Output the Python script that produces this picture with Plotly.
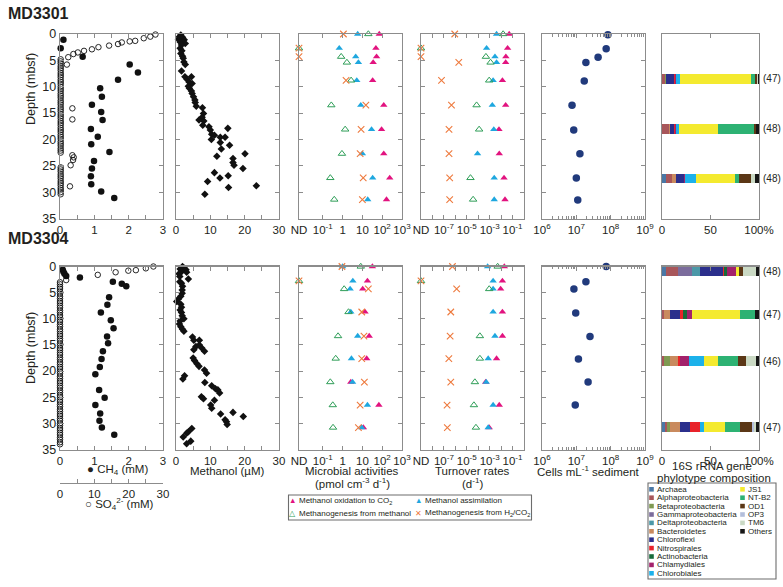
import plotly.graph_objects as go

W, H = 783, 587
FONT = "Liberation Sans, Arial, Helvetica, sans-serif"
AXC = "#8c8c8c"
TXT = "#231f20"

# ------------------------------------------------------------------ data
# MD3301 porewater CH4 (mM)
ch4_3301_depth = [1.1, 2.7, 4.3, 5.8, 7.3, 8.7, 10.3, 11.9, 13.4, 14.8, 16.3, 18.0, 19.5,
                  20.9, 22.4, 24.1, 25.5, 27.0, 28.5, 29.9, 31.1]
ch4_3301 = [0.10, 0.02, 0.66, 2.03, 2.27, 1.69, 1.17, 1.22, 0.93, 1.20, 1.24, 0.90, 1.10,
            0.91, 1.44, 0.99, 0.93, 0.90, 0.91, 1.20, 1.58]
# MD3301 porewater SO4 (mM)
so4_3301_depth = [0.1, 0.5, 0.8, 1.3, 1.4, 1.6, 1.9, 2.2, 2.5, 2.9, 3.2, 3.5, 3.8, 4.4, 5.8,
                  14.1, 16.2, 23.0, 23.4, 23.9, 24.9, 28.9,
                  4.8, 5.2, 5.6, 6.1, 6.5, 6.9, 7.4, 7.8, 8.2, 8.7, 9.1, 9.5, 10.0, 10.4,
                  10.8, 11.3, 11.7, 12.1, 12.6, 13.0, 13.4, 13.9, 14.3, 14.7, 15.2, 15.6,
                  16.0, 16.5, 16.9, 17.3, 17.8, 18.2, 18.6, 19.1, 19.5, 19.9, 20.4, 20.8,
                  21.2, 21.7, 22.1, 22.5,
                  25.3, 25.7, 26.1, 26.6, 27.0, 27.4, 27.9, 28.3, 28.7, 29.2, 29.6, 30.0, 30.4]
so4_3301 = [27.8, 26.3, 24.4, 21.9, 20.3, 18.0, 16.9, 14.3, 11.2, 9.3, 7.0, 5.2, 3.9, 2.4, 2.0,
            3.6, 3.6, 3.6, 4.0, 3.8, 3.1, 2.9,
            0.2, 0.2, 0.2, 0.2, 0.2, 0.2, 0.2, 0.2, 0.2, 0.2, 0.2, 0.2, 0.2, 0.2,
            0.2, 0.2, 0.2, 0.2, 0.2, 0.2, 0.2, 0.2, 0.2, 0.2, 0.2, 0.2,
            0.2, 0.2, 0.2, 0.2, 0.2, 0.2, 0.2, 0.2, 0.2, 0.2, 0.2, 0.2,
            0.2, 0.2, 0.2, 0.2,
            0.2, 0.2, 0.2, 0.2, 0.2, 0.2, 0.2, 0.2, 0.2, 0.2, 0.2, 0.2, 0.2]
# MD3301 methanol (uM)
meoh_3301_depth = [0.2, 0.5, 0.6, 1.0, 1.1, 1.5, 1.8, 2.1, 2.7, 3.2, 3.7, 4.2, 4.6, 5.3, 5.8,
                   7.0, 8.1, 8.1, 8.6, 9.1, 9.4, 9.9, 10.3, 10.8, 11.3, 11.9, 12.5, 13.0,
                   13.7, 14.0, 15.1, 15.8, 16.3, 16.5, 17.3, 17.6, 18.2, 19.0, 19.2, 20.0,
                   19.6, 17.9, 19.6, 20.6, 21.1, 21.8, 23.2, 22.7, 23.6, 24.4, 24.9, 25.5,
                   26.3, 26.9, 27.3, 28.0, 28.8, 29.1, 30.4]
meoh_3301 = [1.4, 1.0, 1.9, 0.7, 2.4, 1.2, 2.7, 1.6, 1.2, 1.7, 1.4, 1.9, 2.1, 2.3, 2.7,
             1.6, 2.6, 4.5, 3.2, 3.8, 4.7, 3.6, 3.9, 4.5, 4.7, 5.1, 5.5, 5.6,
             5.9, 7.7, 8.0, 7.6, 6.7, 8.1, 7.8, 9.6, 10.0, 10.4, 11.2, 10.3,
             12.9, 15.1, 14.3, 12.9, 15.6, 13.2, 11.9, 20.1, 16.6, 16.6, 16.9, 19.5,
             11.2, 15.2, 12.8, 9.2, 23.4, 15.3, 8.4]

# MD3304 porewater
ch4_3304_depth = [0.6, 1.0, 1.4, 1.8, 2.1, 2.9, 3.3, 3.8, 5.9, 7.3, 8.8, 10.3, 11.8, 13.4,
                  14.7, 16.2, 17.7, 19.2, 20.6, 23.6, 25.1, 26.5, 28.1, 29.5, 30.8, 32.2]
ch4_3304 = [0.08, 0.10, 0.13, 0.18, 0.58, 1.54, 1.80, 1.93, 1.43, 1.38, 1.19, 1.48, 1.56, 1.37,
            1.40, 1.25, 1.21, 1.16, 1.03, 1.14, 1.30, 1.03, 1.17, 1.15, 1.22, 1.58]
so4_3304_depth = [0.0, 0.35, 0.7, 0.8, 1.1, 1.6, 2.6,
                  3.0, 3.4, 3.9, 4.3, 4.8, 5.2, 5.7, 6.1, 6.6, 7.0, 7.5, 7.9, 8.4, 8.8,
                  9.3, 9.7, 10.2, 10.6, 11.1, 11.5, 12.0, 12.4, 12.9, 13.3, 13.8, 14.2,
                  14.7, 15.1, 15.6, 16.0, 16.5, 16.9, 17.4, 17.8, 18.3, 18.7, 19.2, 19.6,
                  20.1, 20.5, 21.0, 21.4, 21.9, 22.3, 22.8, 23.2, 23.7, 24.1, 24.6, 25.0,
                  25.5, 25.9, 26.4, 26.8, 27.3, 27.7, 28.2, 28.6, 29.1, 29.5, 30.0, 30.4,
                  30.9, 31.3, 31.8, 32.2, 32.7, 33.1, 33.6, 34.0]
so4_3304 = [27.2, 25.0, 22.1, 19.9, 16.2, 11.0, 1.8,
            0.0, 0.0, 0.0, 0.0, 0.0, 0.0, 0.0, 0.0, 0.0, 0.0, 0.0, 0.0, 0.0, 0.0,
            0.0, 0.0, 0.0, 0.0, 0.0, 0.0, 0.0, 0.0, 0.0, 0.0, 0.0, 0.0,
            0.0, 0.0, 0.0, 0.0, 0.0, 0.0, 0.0, 0.0, 0.0, 0.0, 0.0, 0.0,
            0.0, 0.0, 0.0, 0.0, 0.0, 0.0, 0.0, 0.0, 0.0, 0.0, 0.0, 0.0,
            0.0, 0.0, 0.0, 0.0, 0.0, 0.0, 0.0, 0.0, 0.0, 0.0, 0.0, 0.0,
            0.0, 0.0, 0.0, 0.0, 0.0, 0.0, 0.0, 0.0]
meoh_3304_depth = [0.0, 0.3, 0.5, 0.6, 1.0, 1.1, 1.4, 1.9, 2.4, 2.9, 3.2, 3.8, 4.5, 5.1, 5.7,
                   6.2, 6.7, 7.2, 7.8, 8.3, 8.8, 9.4, 10.0, 10.4, 11.0, 11.5, 12.0, 12.4,
                   13.5, 14.1, 14.1, 15.0, 15.3, 15.6, 16.2, 15.9, 17.5, 18.0, 18.6, 19.1,
                   19.8, 20.4, 20.9, 21.5, 22.2, 22.8, 23.4, 23.6, 24.2, 24.9, 25.3, 25.6,
                   26.5, 27.1, 27.9, 28.2, 28.7, 29.3, 29.7, 30.2, 31.0, 31.6, 31.9, 32.6,
                   33.4, 33.9]
meoh_3304 = [1.9, 2.3, 1.2, 2.9, 1.6, 3.1, 0.9, 1.1, 3.6, 1.1, 1.6, 1.9, 1.8, 1.8, 1.4,
             0.7, 0.2, 1.4, 1.6, 1.2, 1.6, 1.8, 2.3, 1.2, 1.0, 1.4, 1.9, 2.3,
             4.8, 5.2, 6.8, 6.8, 5.8, 7.5, 8.3, 5.2, 5.0, 5.4, 6.1, 6.7,
             8.3, 8.9, 2.5, 2.0, 8.4, 10.4, 11.5, 12.2, 12.7, 7.4, 8.0, 11.2,
             10.1, 10.4, 16.6, 13.0, 19.6, 14.3, 14.7, 14.9, 4.6, 3.6, 3.1, 2.1,
             4.3, 3.1]

# Microbial activities (pmol cm-3 d-1), "ND" = not detected
act_3301_depth = [0.0, 2.7, 4.3, 5.4, 8.8, 13.5, 18.1, 22.7, 27.3, 31.4]
act_3301_ox = [71, 48, 52, 35, 33, 120, 93, 120, 240, 165]
act_3301_assim = [5.8, 0.68, 4.6, 6.3, 5.2, 8.3, 29, 10, 33, 18.6]
act_3301_mg_meoh = [20, "ND", 0.85, 1.65, 2.7, 0.27, 1.35, 0.93, 0.24, 0.38]
act_3301_mg_h2 = [1.1, "ND", "ND", None, 1.5, 15, 8.6, 7.7, 11, 10]
act_3304_depth = [0.0, 2.76, 4.3, 8.7, 13.3, 17.6, 22.1, 26.5, 30.8]
act_3304_ox = [32, 18, 10.4, 13.6, 22, 16.5, 2.6, 68, 11.2]
act_3304_assim = [1.0, 3.3, 2.4, 2.6, 5.8, 2.8, 3.2, 18, 9.3]
act_3304_mg_meoh = [8.3, "ND", 1.2, 2.0, 0.59, 0.45, 0.24, 0.32, 0.33]
act_3304_mg_h2 = [0.93, "ND", 20, 9.3, 12, 9.3, 12.6, 7.7, 6.3]

# Turnover rates (d-1)
tr_3301_ox = [5.1e-2, 3.7e-2, 2.6e-2, 2.5e-2, 1.3e-2, 2.5e-2, 6.5e-3, 6.9e-3, 1.8e-2, 2.2e-2]
tr_3301_assim = [4.0e-3, 5.4e-4, 2.9e-3, 4.0e-3, 2.0e-3, 1.7e-3, 2.3e-3, 8.7e-5, 2.5e-3, 2.5e-3]
tr_3301_mg_meoh = [1.5e-2, "ND", 4.7e-4, 1.2e-3, 9.1e-4, 7.2e-5, 1.2e-4, None, 2.1e-5, 3.6e-5]
tr_3301_mg_h2 = [8.9e-7, "ND", "ND", 2.0e-6, 6.2e-8, 4.6e-7, 2.8e-7, 2.8e-7, 3.2e-7, 3.2e-7]
tr_3304_ox = [1.9e-2, 1.3e-2, 9.1e-3, 1.3e-2, 1.3e-2, 4.0e-3, 4.5e-4, 6.9e-3, 9.1e-4]
tr_3304_assim = [6.6e-4, 2.0e-3, 2.0e-3, 2.0e-3, 2.9e-3, 7.4e-4, 5.0e-4, 2.0e-3, 7.4e-4]
tr_3304_mg_meoh = [5.0e-3, "ND", 9.1e-4, None, 1.4e-4, 1.4e-4, 5.1e-5, 4.2e-5, 6.3e-5]
tr_3304_mg_h2 = [5.6e-7, "ND", 1.3e-6, 4.0e-7, 3.5e-7, 2.7e-7, 4.0e-7, 1.9e-7, 2.0e-7]

# Cell counts (cells mL-1 sediment)
cells_3301_depth = [0.13, 2.8, 4.4, 5.4, 8.9, 13.5, 18.2, 22.7, 27.3, 31.5]
cells_3301 = [8.3e7, 7.4e7, 4.3e7, 1.9e7, 1.7e7, 7.5e6, 8.4e6, 1.27e7, 1.0e7, 1.1e7]
cells_3304_depth = [0.0, 2.9, 4.3, 8.9, 13.4, 17.7, 22.1, 26.5]
cells_3304 = [7.4e7, 1.9e7, 8.5e6, 9.6e6, 2.5e7, 1.15e7, 2.2e7, 9.3e6]

# 16S rRNA gene phylotype composition (%)
phylotypes = ["Archaea", "Alphaproteobacteria", "Betaproteobacteria", "Gammaproteobacteria",
              "Deltaproteobacteria", "Bacteroidetes", "Chloroflexi", "Nitrospirales",
              "Actinobacteria", "Chlamydiales", "Chlorobiales", "JS1", "NT-B2", "OD1",
              "OP3", "TM6", "Others"]
phylo_colors = ["#4a78a6", "#a8565a", "#7f9a52", "#7b6c9c", "#4b98a8", "#c98a5e", "#2b2f8c",
                "#e8232a", "#176b3a", "#a3216b", "#1cb1ea", "#f4ea2f", "#2db273", "#5b3716",
                "#b3bedb", "#cad9c4", "#161616"]
clone_3301_depth = [8.5, 18.0, 27.4]
clone_3301_n = [47, 48, 48]
comp_3301_a = [0, 3, 1, 0, 0, 0, 8, 1, 0, 1.5, 4, 73, 4.5, 1.5, 0, 1.5, 1]
comp_3301_b = [0, 7, 0, 0, 0, 1, 4, 1, 0, 1, 4, 40, 37, 2, 0, 0, 3]
comp_3301_c = [4, 6, 0, 0, 0, 4, 8.5, 0, 0, 1.5, 11, 40, 4.5, 12, 0, 4, 4.5]
clone_3304_depth = [0.9, 9.2, 18.1, 30.7]
clone_3304_n = [48, 47, 46, 47]
comp_3304_a = [4, 12.5, 0, 14.5, 8.5, 0, 23, 1.5, 3, 9.5, 0, 3, 0, 4.5, 0, 13, 3]
comp_3304_b = [0, 2.4, 0, 0, 0, 5.5, 10.2, 3.4, 4.4, 5.1, 0, 49.2, 15.4, 0, 0, 0, 4.4]
comp_3304_c = [0, 1.7, 6.8, 0, 0, 8.5, 0, 1.7, 0, 9.2, 15.4, 14.7, 20.5, 8.5, 0, 10.2, 2.7]
comp_3304_d = [2.7, 2.4, 3.4, 0, 0, 10.2, 10.2, 10.2, 0, 0, 4.1, 22.2, 14.7, 12.6, 1.7, 2.7, 2.7]

# ------------------------------------------------------------------ layout geometry (px)
col_px = [(60, 163), (176, 279), (299, 402), (421, 524), (542, 645), (662, 759)]
row_px = [(34, 218.5), (266.5, 449.5)]
ACT_MIN = 10 ** -2.2   # left edge of activity axis (ND position)
TR_MIN = 1e-9          # left edge of turnover axis (ND position)


def px(xp):
    return xp / W


def py(yp):
    return 1 - yp / H


def ref(r, c):
    i = r * 6 + c + 1
    return ("x" if i == 1 else f"x{i}"), ("y" if i == 1 else f"y{i}")


fig = go.Figure()


def nd(vals, ndv):
    return [ndv if v == "ND" else v for v in vals]


def scatter(x, y, xr, yr, **kw):
    fig.add_trace(go.Scatter(x=x, y=y, mode="markers", xaxis=xr, yaxis=yr,
                             showlegend=False, cliponaxis=False, hoverinfo="skip", **kw))


C_OX = "#e2137f"
C_AS = "#1ea7df"
C_MG = "#2f9e58"
C_H2 = "#ee7a3e"
C_CELL = "#213a7c"

rows = [
    dict(ch4d=ch4_3301_depth, ch4=ch4_3301, so4d=so4_3301_depth, so4=so4_3301,
         md=meoh_3301_depth, m=meoh_3301, ad=act_3301_depth,
         aox=act_3301_ox, aas=act_3301_assim, amg=act_3301_mg_meoh, ah2=act_3301_mg_h2,
         tox=tr_3301_ox, tas=tr_3301_assim, tmg=tr_3301_mg_meoh, th2=tr_3301_mg_h2,
         cd=cells_3301_depth, c=cells_3301, bd=clone_3301_depth, bn=clone_3301_n,
         comps=[comp_3301_a, comp_3301_b, comp_3301_c], so4ax="x13"),
    dict(ch4d=ch4_3304_depth, ch4=ch4_3304, so4d=so4_3304_depth, so4=so4_3304,
         md=meoh_3304_depth, m=meoh_3304, ad=act_3304_depth,
         aox=act_3304_ox, aas=act_3304_assim, amg=act_3304_mg_meoh, ah2=act_3304_mg_h2,
         tox=tr_3304_ox, tas=tr_3304_assim, tmg=tr_3304_mg_meoh, th2=tr_3304_mg_h2,
         cd=cells_3304_depth, c=cells_3304, bd=clone_3304_depth, bn=clone_3304_n,
         comps=[comp_3304_a, comp_3304_b, comp_3304_c, comp_3304_d], so4ax="x14"),
]

annotations = []
for r, d in enumerate(rows):
    x1, y1 = ref(r, 0)
    scatter(d["so4"], d["so4d"], d["so4ax"], y1,
            marker=dict(symbol="circle-open", size=5.5, color="#111", line=dict(width=0.9)))
    scatter(d["ch4"], d["ch4d"], x1, y1, marker=dict(symbol="circle", size=6.5, color="#111"))
    x2, y2 = ref(r, 1)
    scatter(d["m"], d["md"], x2, y2, marker=dict(symbol="diamond", size=5.8, color="#111"))
    for col, ndv, keys in [(2, ACT_MIN, ("aox", "aas", "amg", "ah2")),
                           (3, TR_MIN, ("tox", "tas", "tmg", "th2"))]:
        xr, yr = ref(r, col)
        scatter(nd(d[keys[0]], ndv), d["ad"], xr, yr,
                marker=dict(symbol="triangle-up", size=6.5, color=C_OX))
        scatter(nd(d[keys[1]], ndv), d["ad"], xr, yr,
                marker=dict(symbol="triangle-up", size=6.5, color=C_AS))
        scatter(nd(d[keys[2]], ndv), d["ad"], xr, yr,
                marker=dict(symbol="triangle-up-open", size=6.5, color=C_MG, line=dict(width=1)))
        scatter(nd(d[keys[3]], ndv), d["ad"], xr, yr,
                marker=dict(symbol="x-thin-open", size=6.5, color=C_H2, line=dict(width=1.1, color=C_H2)))
    x5, y5 = ref(r, 4)
    scatter(d["c"], d["cd"], x5, y5, marker=dict(symbol="circle", size=7.5, color=C_CELL))
    x6, y6 = ref(r, 5)
    for k, name in enumerate(phylotypes):
        fig.add_trace(go.Bar(x=[comp[k] for comp in d["comps"]], y=d["bd"], orientation="h",
                             width=1.8, xaxis=x6, yaxis=y6, marker=dict(color=phylo_colors[k], line=dict(width=0)),
                             showlegend=False, hoverinfo="skip", name=name))
    for dep, n in zip(d["bd"], d["bn"]):
        annotations.append(dict(x=px(761), y=dep, xref="paper", yref=y6, text=f"({n})",
                                showarrow=False, xanchor="left", yanchor="middle",
                                font=dict(size=10, color=TXT, family=FONT)))

# ------------------------------------------------------------------ axes
base = dict(showline=True, linecolor=AXC, linewidth=1.3, mirror="ticks", ticks="inside",
            ticklen=4, tickwidth=1, tickcolor=AXC, showgrid=False, zeroline=False,
            automargin=False, fixedrange=True,
            tickfont=dict(family=FONT, size=11.5, color=TXT))
lay = {}
minor_cells = [k * 10 ** e for e in (6, 7, 8) for k in range(2, 10)]
for r in range(2):
    for c in range(6):
        i = r * 6 + c + 1
        xk = "xaxis" if i == 1 else f"xaxis{i}"
        yk = "yaxis" if i == 1 else f"yaxis{i}"
        xr, yr = ref(r, c)
        xa = dict(base, domain=[px(col_px[c][0]), px(col_px[c][1])], anchor=yr)
        ya = dict(base, domain=[py(row_px[r][1]), py(row_px[r][0])], anchor=xr,
                  range=[35, 0], tickmode="array", tickvals=[0, 5, 10, 15, 20, 25, 30, 35],
                  showticklabels=(c == 0), tickfont=dict(family=FONT, size=12.5, color=TXT))
        if c == 0:
            xa.update(range=[0, 3], tickmode="linear", tick0=0, dtick=1,
                      minor=dict(dtick=0.5, ticks="inside", ticklen=4, tickcolor=AXC))
        elif c == 1:
            xa.update(range=[0, 30], tickmode="linear", tick0=0, dtick=10,
                      minor=dict(dtick=5, ticks="inside", ticklen=4, tickcolor=AXC))
        elif c == 2:
            xa.update(type="log", range=[-2.2, 3], tickmode="array",
                      tickvals=[ACT_MIN, 0.1, 1, 10, 100, 1000],
                      ticktext=["ND", "10<sup>-1</sup>", "1", "10", "10<sup>2</sup>", "10<sup>3</sup>"])
        elif c == 3:
            xa.update(type="log", range=[-9, 0], tickmode="array",
                      tickvals=[1e-9, 1e-7, 1e-5, 1e-3, 1e-1],
                      ticktext=["ND", "10<sup>-7</sup>", "10<sup>-5</sup>",
                                "10<sup>-3</sup>", "10<sup>-1</sup>"],
                      minor=dict(tickmode="array", tickvals=[1e-8, 1e-6, 1e-4, 1e-2],
                                 ticks="inside", ticklen=4, tickcolor=AXC))
        elif c == 4:
            xa.update(type="log", range=[6, 9], tickmode="array",
                      tickvals=[1e6, 1e7, 1e8, 1e9],
                      ticktext=["10<sup>6</sup>", "10<sup>7</sup>", "10<sup>8</sup>", "10<sup>9</sup>"],
                      minor=dict(tickmode="array", tickvals=minor_cells, ticks="inside",
                                 ticklen=2.5, tickcolor=AXC))
        else:
            xa.update(range=[0, 100], tickmode="array", tickvals=[0, 50, 100],
                      ticktext=["0", "50", "100%"])
            ya.update(ticks="", mirror=True)
        lay[xk] = xa
        lay[yk] = ya

# SO4 axes (0-30 mM) overlaying the CH4 axes
lay["xaxis13"] = dict(overlaying="x", range=[0, 30], visible=False, anchor="y",
                      fixedrange=True, automargin=False)
lay["xaxis14"] = dict(base, overlaying="x7", range=[0, 30], anchor="free", position=py(483),
                      side="bottom", mirror=False, tickmode="linear", tick0=0, dtick=10,
                      minor=dict(dtick=5, ticks="inside", ticklen=4, tickcolor=AXC))

# ------------------------------------------------------------------ text
def ann(x, y, text, size=11.5, **kw):
    a = dict(x=px(x), y=py(y), xref="paper", yref="paper", text=text, showarrow=False,
             font=dict(family=FONT, size=size, color=TXT), xanchor="center", yanchor="middle")
    a.update(kw)
    annotations.append(a)


ann(6, 13, "<b>MD3301</b>", size=16, xanchor="left")
ann(6, 238, "<b>MD3304</b>", size=16, xanchor="left")
ann(31, 89, "Depth (mbsf)", size=12.5, textangle=-90)
ann(31, 348, "Depth (mbsf)", size=12.5, textangle=-90)
ann(117, 469.5, "● CH<sub>4</sub> (mM)")
ann(120, 504, "○ SO<sub>4</sub><sup>2-</sup> (mM)")
ann(227, 471, "Methanol (µM)")
ann(352, 471, "Microbial activities")
ann(352, 483, "(pmol cm<sup>-3</sup> d<sup>-1</sup>)")
ann(473, 471, "Turnover rates")
ann(473, 483, "(d<sup>-1</sup>)")
ann(588, 471, "Cells mL<sup>-1</sup> sediment")
ann(712, 466, "16S rRNA gene")
ann(714, 477.5, "phylotype composition")

shapes = []
# activity legend
shapes.append(dict(type="rect", xref="paper", yref="paper", x0=px(288.5), x1=px(531.5),
                   y0=py(520), y1=py(495), line=dict(color="#6d6d6d", width=1.1)))
leg_items = [(292.5, 500.7, "▲", C_OX, "Methanol oxidation to CO<sub>2</sub>"),
             (418.5, 500.7, "▲", C_AS, "Methanol assimilation"),
             (292.5, 513.3, "△", C_MG, "Methanogenesis from methanol"),
             (418.5, 513.3, "✕", C_H2, "Methanogenesis from H<sub>2</sub>/CO<sub>2</sub>")]
for xm, ym, sym, colr, label in leg_items:
    ann(xm, ym, f"<span style='color:{colr}'>{sym}</span>", size=7.5)
    ann(xm + 4.5, ym, label, size=8, xanchor="left")

# phylotype legend
shapes.append(dict(type="rect", xref="paper", yref="paper", x0=px(648), x1=px(776),
                   y0=py(579), y1=py(483), line=dict(color="#6d6d6d", width=1.1)))
for k, name in enumerate(phylotypes):
    if k < 11:
        xs, ys = 651.5, 489.3 + k * 8.4
    else:
        xs, ys = 742.5, 489.3 + (k - 11) * 8.4
    shapes.append(dict(type="rect", xref="paper", yref="paper", x0=px(xs - 2.3), x1=px(xs + 2.3),
                       y0=py(ys + 2.3), y1=py(ys - 2.3), fillcolor=phylo_colors[k],
                       line=dict(width=0)))
    ann(xs + 3.5, ys, name, size=8, xanchor="left")

fig.update_layout(width=W, height=H, margin=dict(l=0, r=0, t=0, b=0),
                  paper_bgcolor="white", plot_bgcolor="white", barmode="stack",
                  showlegend=False, font=dict(family=FONT, color=TXT),
                  annotations=annotations, shapes=shapes, bargap=0, **lay)

fig.write_html("out.html", config={"displayModeBar": False, "staticPlot": True},
               post_script="document.body.style.margin='0px';document.body.style.overflow='hidden';")
